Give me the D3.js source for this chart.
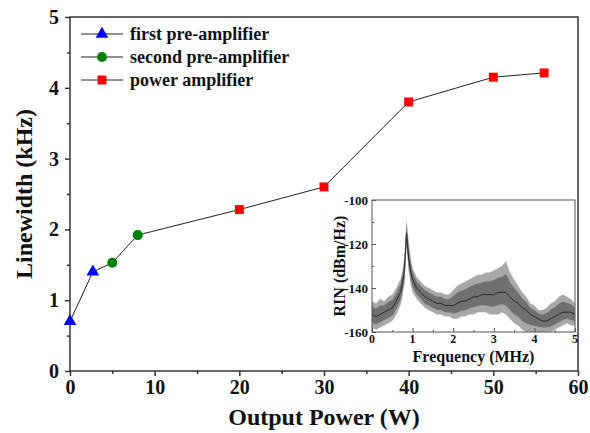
<!DOCTYPE html>
<html>
<head>
<meta charset="utf-8">
<script src="https://cdn.jsdelivr.net/npm/d3@7"></script>
<style>
  body { margin: 0; background: #fff; }
</style>
</head>
<body>
<div id="chart"></div>
<script>
// main chart data (Output Power W -> Linewidth kHz)
const firstPre = [[0, 0.70], [2.7, 1.40]];
const secondPre = [[5, 1.53], [8, 1.92]];
const powerAmp = [[20, 2.28], [30, 2.60], [40, 3.80], [50, 4.15], [56, 4.21]];
const xTicks = [0, 10, 20, 30, 40, 50, 60];
const yTicks = [0, 1, 2, 3, 4, 5];
const legendNames = ["first pre-amplifier", "second pre-amplifier", "power amplifier"];

// inset RIN spectrum (mean and noise envelope)
const rinFreq = [0, 0.1, 0.2, 0.3, 0.4, 0.5, 0.6, 0.7, 0.75, 0.8, 0.85, 0.9, 0.95, 1.0, 1.1, 1.2, 1.3, 1.4, 1.5, 1.6,
  1.7, 1.8, 1.9, 2.0, 2.1, 2.2, 2.3, 2.4, 2.5, 2.6, 2.7, 2.8, 2.9, 3.0, 3.1, 3.2, 3.3, 3.4, 3.5, 3.6,
  3.7, 3.8, 3.9, 4.0, 4.1, 4.2, 4.3, 4.4, 4.5, 4.6, 4.7, 4.8, 4.9, 5.0];
const rinMean = [-152, -153, -152, -151, -150, -149, -146, -142, -138, -132, -115, -126, -132, -136, -140, -142, -144, -145, -146, -147,
  -147, -148, -148, -148, -147, -146, -146, -145, -144, -144, -143, -143, -143, -143, -142, -142, -142, -144, -146, -147,
  -149, -150, -152, -153, -154, -155, -155, -154, -153, -152, -151, -151, -151, -152];
const rinUpper = [-146, -147, -145, -146, -144, -143, -140, -136, -132, -125, -109, -118, -126, -131, -135, -137, -139, -140, -141, -142,
  -142, -143, -143, -141, -139, -138, -137, -136, -135, -134, -134, -133, -133, -132, -131, -130, -128, -133, -136, -139,
  -142, -144, -147, -148, -150, -150, -149, -147, -146, -144, -143, -144, -145, -147];
const rinLower = [-158, -159, -158, -157, -156, -155, -152, -148, -144, -138, -121, -132, -138, -142, -145, -147, -149, -150, -151, -152,
  -152, -153, -153, -154, -154, -153, -153, -152, -152, -151, -151, -151, -152, -152, -152, -151, -152, -154, -156, -157,
  -159, -160, -160, -160, -160, -160, -160, -160, -159, -158, -157, -156, -157, -157];
const insetXTicks = [0, 1, 2, 3, 4, 5];
const insetYTicks = [-160, -140, -120, -100];

const width = 590, height = 433;
const margin = ({ top: 17, right: 12, bottom: 62, left: 70 });

// pick the first serif face that is actually installed
function pickFont(list) {
  const ctx = document.createElement("canvas").getContext("2d");
  const probe = "Frequency (MHz) 0123456789";
  for (const f of list) {
    let same = true;
    for (const base of ["monospace", "sans-serif"]) {
      ctx.font = `bold 20px ${base}`;
      const w0 = ctx.measureText(probe).width;
      ctx.font = `bold 20px "${f}", ${base}`;
      if (ctx.measureText(probe).width !== w0) same = false;
    }
    if (!same) return `"${f}"`;
  }
  return "serif";
}
const serif = pickFont(["Liberation Serif", "Times New Roman", "Tinos", "DejaVu Serif", "Noto Serif", "FreeSerif", "Times"]) + ", serif";

const svg = d3.select("#chart")
  .append("svg")
  .attr("width", width)
  .attr("height", height)
  .attr("viewBox", [0, 0, width, height])
  .attr("font-family", serif)
  .attr("font-weight", "bold");

const x = d3.scaleLinear()
  .domain([0, 60])
  .range([margin.left, width - margin.right]);

const y = d3.scaleLinear()
  .domain([0, 5])
  .range([height - margin.bottom, margin.top]);

const axisColor = "#333";

// frame
svg.append("rect")
  .attr("x", x(0)).attr("y", y(5))
  .attr("width", x(60) - x(0)).attr("height", y(0) - y(5))
  .attr("fill", "none").attr("stroke", axisColor).attr("stroke-width", 1.5);

// minor ticks
svg.append("g")
  .attr("transform", `translate(0,${y(0)})`)
  .call(d3.axisBottom(x).tickValues(d3.range(5, 60, 10)).tickSize(3).tickFormat(""))
  .call(g => g.select(".domain").remove())
  .call(g => g.selectAll("line").attr("stroke", axisColor).attr("stroke-width", 1.5));

svg.append("g")
  .attr("transform", `translate(${x(0)},0)`)
  .call(d3.axisLeft(y).tickValues(d3.range(0.5, 5, 1)).tickSize(3).tickFormat(""))
  .call(g => g.select(".domain").remove())
  .call(g => g.selectAll("line").attr("stroke", axisColor).attr("stroke-width", 1.5));

// major ticks
svg.append("g")
  .attr("transform", `translate(0,${y(0)})`)
  .call(d3.axisBottom(x).tickValues(xTicks).tickSize(5).tickPadding(4).tickFormat(d3.format("d")))
  .call(g => g.attr("font-family", serif).attr("font-size", 20))
  .call(g => g.select(".domain").remove())
  .call(g => g.selectAll("line").attr("stroke", axisColor).attr("stroke-width", 1.5))
  .call(g => g.selectAll("text").attr("fill", "#111"));

svg.append("g")
  .attr("transform", `translate(${x(0)},0)`)
  .call(d3.axisLeft(y).tickValues(yTicks).tickSize(5).tickPadding(6).tickFormat(d3.format("d")))
  .call(g => g.attr("font-family", serif).attr("font-size", 20))
  .call(g => g.select(".domain").remove())
  .call(g => g.selectAll("line").attr("stroke", axisColor).attr("stroke-width", 1.5))
  .call(g => g.selectAll("text").attr("fill", "#111"));

// axis titles
svg.append("text")
  .attr("x", (x(0) + x(60)) / 2)
  .attr("y", 425)
  .attr("text-anchor", "middle")
  .attr("font-size", 24)
  .attr("fill", "#111")
  .text("Output Power (W)");

svg.append("text")
  .attr("transform", `translate(32,${(y(0) + y(5)) / 2}) rotate(-90)`)
  .attr("text-anchor", "middle")
  .attr("font-size", 24)
  .attr("fill", "#111")
  .text("Linewidth (kHz)");

// connecting line through all points
const allPts = firstPre.concat(secondPre, powerAmp);
svg.append("path")
  .datum(allPts)
  .attr("fill", "none")
  .attr("stroke", "#222")
  .attr("stroke-width", 1)
  .attr("d", d3.line().x(d => x(d[0])).y(d => y(d[1])));

const tri = d3.symbol().type(d3.symbolTriangle).size(70);
const circ = d3.symbol().type(d3.symbolCircle).size(80);
const sq = d3.symbol().type(d3.symbolSquare).size(80);

svg.append("g").selectAll("path")
  .data(firstPre).join("path")
  .attr("transform", d => `translate(${x(d[0])},${y(d[1])})`)
  .attr("d", tri).attr("fill", "#0000ff");

svg.append("g").selectAll("path")
  .data(secondPre).join("path")
  .attr("transform", d => `translate(${x(d[0])},${y(d[1])})`)
  .attr("d", circ).attr("fill", "#008000");

svg.append("g").selectAll("path")
  .data(powerAmp).join("path")
  .attr("transform", d => `translate(${x(d[0])},${y(d[1])})`)
  .attr("d", sq).attr("fill", "#ff0000");

// legend
const legendSyms = [[tri, "#0000ff"], [circ, "#008000"], [sq, "#ff0000"]];
const legend = svg.append("g")
  .selectAll("g")
  .data(legendNames)
  .join("g")
  .attr("transform", (d, i) => `translate(81,${34 + i * 23})`);

legend.append("line")
  .attr("x1", 0).attr("x2", 42)
  .attr("stroke", "#222").attr("stroke-width", 1);

legend.append("path")
  .attr("transform", "translate(21,0)")
  .attr("d", (d, i) => legendSyms[i][0]())
  .attr("fill", (d, i) => legendSyms[i][1]);

legend.append("text")
  .attr("x", 49)
  .attr("y", 6)
  .attr("font-size", 18)
  .attr("fill", "#111")
  .text(d => d);

// ---- inset ----
const ix = d3.scaleLinear()
  .domain([0, 5])
  .range([372, 575]);

const iy = d3.scaleLinear()
  .domain([-160, -100])
  .range([332, 200]);

const inset = svg.append("g");

inset.append("clipPath")
  .attr("id", "insetClip")
  .append("rect")
  .attr("x", ix(0)).attr("y", iy(-100))
  .attr("width", ix(5) - ix(0)).attr("height", iy(-160) - iy(-100));

const rin = rinFreq.map((f, i) => ({ f: f, m: rinMean[i], hi: rinUpper[i], lo: rinLower[i] }));

const plotG = inset.append("g").attr("clip-path", "url(#insetClip)");

plotG.append("path")
  .datum(rin)
  .attr("fill", "#a8a8a8")
  .attr("d", d3.area().x(d => ix(d.f)).y0(d => iy(d.lo)).y1(d => iy(d.hi)));

plotG.append("path")
  .datum(rin)
  .attr("fill", "#707070")
  .attr("d", d3.area().x(d => ix(d.f))
    .y0(d => iy(d.m + (d.lo - d.m) * 0.6))
    .y1(d => iy(d.m + (d.hi - d.m) * 0.6)));

plotG.append("path")
  .datum(rin)
  .attr("fill", "none")
  .attr("stroke", "#2a2a2a")
  .attr("stroke-width", 1)
  .attr("d", d3.line().x(d => ix(d.f)).y(d => iy(d.m)));

inset.append("rect")
  .attr("x", ix(0)).attr("y", iy(-100))
  .attr("width", ix(5) - ix(0)).attr("height", iy(-160) - iy(-100))
  .attr("fill", "none").attr("stroke", "#555").attr("stroke-width", 1);

// inset ticks (inward)
inset.append("g")
  .attr("transform", `translate(0,${iy(-160)})`)
  .call(d3.axisTop(ix).tickValues(d3.range(0.5, 5, 1)).tickSize(2).tickFormat(""))
  .call(g => g.select(".domain").remove())
  .call(g => g.selectAll("line").attr("stroke", "#555"));

inset.append("g")
  .attr("transform", `translate(0,${iy(-160)})`)
  .call(d3.axisTop(ix).tickValues(insetXTicks).tickSize(4).tickFormat(""))
  .call(g => g.select(".domain").remove())
  .call(g => g.selectAll("line").attr("stroke", "#555"));

inset.append("g")
  .attr("transform", `translate(${ix(0)},0)`)
  .call(d3.axisRight(iy).tickValues([-150, -130, -110]).tickSize(2).tickFormat(""))
  .call(g => g.select(".domain").remove())
  .call(g => g.selectAll("line").attr("stroke", "#555"));

inset.append("g")
  .attr("transform", `translate(${ix(0)},0)`)
  .call(d3.axisRight(iy).tickValues(insetYTicks).tickSize(4).tickFormat(""))
  .call(g => g.select(".domain").remove())
  .call(g => g.selectAll("line").attr("stroke", "#555"));

inset.append("g")
  .selectAll("text")
  .data(insetXTicks)
  .join("text")
  .attr("x", d => ix(d))
  .attr("y", iy(-160) + 11)
  .attr("text-anchor", "middle")
  .attr("font-size", 12)
  .attr("fill", "#111")
  .text(d => d);

inset.append("g")
  .selectAll("text")
  .data(insetYTicks)
  .join("text")
  .attr("x", ix(0) - 4)
  .attr("y", d => iy(d) + 5)
  .attr("text-anchor", "end")
  .attr("font-size", 13)
  .attr("fill", "#111")
  .text(d => d);

inset.append("text")
  .attr("x", (ix(0) + ix(5)) / 2)
  .attr("y", 362)
  .attr("text-anchor", "middle")
  .attr("font-size", 16)
  .attr("fill", "#111")
  .text("Frequency (MHz)");

inset.append("text")
  .attr("transform", `translate(345,${(iy(-100) + iy(-160)) / 2}) rotate(-90)`)
  .attr("text-anchor", "middle")
  .attr("font-size", 16)
  .attr("fill", "#111")
  .text("RIN (dBm/Hz)");
</script>
</body>
</html>
